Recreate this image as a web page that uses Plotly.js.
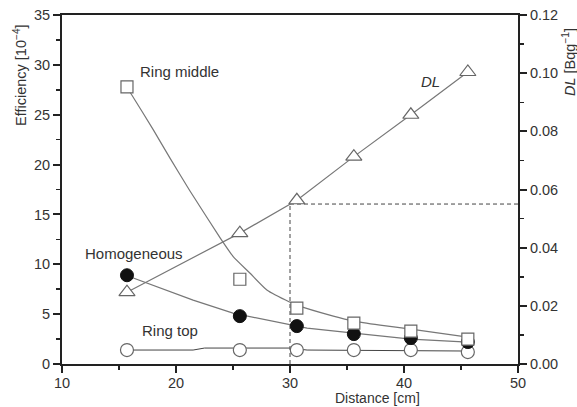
<!DOCTYPE html>
<html><head><meta charset="utf-8">
<script src="https://cdn.plot.ly/plotly-3.0.1.min.js"></script>
<style>body{margin:0;padding:0;background:#fff}#chart{width:577px;height:407px}</style>
</head><body><div id="chart"></div>
<script>
// Measured points
const distance = [15.7, 25.6, 30.6, 35.6, 40.6, 45.6];
const ringMiddle = [27.8, 8.5, 5.6, 4.1, 3.3, 2.5];
const homogeneous = [8.9, 4.8, 3.8, 3.0, 2.6, 2.2];
const ringTop = [1.4, 1.4, 1.4, 1.4, 1.4, 1.2];
const dl = [0.0247, 0.045, 0.0563, 0.0713, 0.0857, 0.1004];

// Fitted curves
const ringMiddleFitX = [15.7, 16.0, 18.0, 19.5, 21.2, 23.9, 25.0, 26.5, 28.0, 30.0, 30.6, 33.8, 35.6, 37.9, 40.6, 45.6];
const ringMiddleFitY = [27.7, 27.2, 23.5, 20.6, 17.4, 12.6, 10.8, 9.1, 7.4, 6.2, 5.9, 4.8, 4.3, 3.9, 3.5, 2.7];
const homogeneousFitX = [15.6, 21.5, 25.0, 30.0, 31.5, 35.6, 40.6, 45.6];
const homogeneousFitY = [8.9, 6.4, 5.1, 4.0, 3.6, 3.1, 2.5, 2.2];
const ringTopFitX = [15.7, 21.5, 22.5, 30.0, 31.5, 45.6];
const ringTopFitY = [1.4, 1.4, 1.6, 1.6, 1.4, 1.3];

const dlTarget = 0.055;
const distTarget = 30;

const xTicks = [10, 20, 30, 40, 50];
const yTicks = [0, 5, 10, 15, 20, 25, 30, 35];
const y2Ticks = [0, 0.02, 0.04, 0.06, 0.08, 0.10, 0.12];
const y2Labels = ['0.00', '0.02', '0.04', '0.06', '0.08', '0.10', '0.12'];

const font = 'Liberation Sans, Arial, Helvetica, sans-serif';
const txt = '#333';
const lineGray = '#777';
const mkLine = {color: '#666', width: 1.2};
const tickFont = {size: 14.5, color: txt};

const traces = [
  {x: ringMiddleFitX, y: ringMiddleFitY, mode: 'lines', line: {color: lineGray, width: 1.2, shape: 'spline', smoothing: 0.5}, hoverinfo: 'skip'},
  {x: homogeneousFitX, y: homogeneousFitY, mode: 'lines', line: {color: lineGray, width: 1.2}, hoverinfo: 'skip'},
  {x: ringTopFitX, y: ringTopFitY, mode: 'lines', line: {color: '#444', width: 1}, hoverinfo: 'skip'},
  {x: distance, y: dl, yaxis: 'y2', mode: 'lines', line: {color: lineGray, width: 1.2}, hoverinfo: 'skip'},
  {x: distance, y: ringTop, mode: 'markers', marker: {symbol: 'circle', size: 13, color: '#fff', line: mkLine}},
  {x: distance, y: homogeneous, mode: 'markers', marker: {symbol: 'circle', size: 13, color: '#111', line: {color: '#111', width: 1}}},
  {x: distance, y: ringMiddle, mode: 'markers', marker: {symbol: 'square', size: 12, color: '#fff', line: mkLine}},
  {x: distance, y: dl, yaxis: 'y2', mode: 'markers', marker: {symbol: 'triangle-up', size: 14, color: '#fff', line: mkLine}}
];

const W = 577, H = 407, ML = 62, MR = 59, MT = 15, MB = 43;
const pw = W - ML - MR, ph = H - MT - MB;
const px = v => (v - ML) / pw;
const py = v => (H - MB - v) / ph;

const layout = {
  width: W, height: H,
  margin: {l: ML, r: MR, t: MT, b: MB},
  showlegend: false,
  paper_bgcolor: '#fff', plot_bgcolor: '#fff',
  font: {family: font, size: 14.5, color: txt},
  xaxis: {
    range: [10, 50], tickvals: xTicks, ticks: 'outside', ticklen: 7, tickwidth: 2, tickcolor: '#222',
    showline: true, linecolor: '#222', linewidth: 2, mirror: true, showgrid: false, zeroline: false,
    minor: {dtick: 5, ticks: 'outside', ticklen: 4, tickwidth: 1.5, tickcolor: '#222'},
    tickfont: tickFont, ticklabelstandoff: -2
  },
  yaxis: {
    range: [0, 35], tickvals: yTicks, ticks: 'outside', ticklen: 7, tickwidth: 2, tickcolor: '#222',
    showline: true, linecolor: '#222', linewidth: 2, showgrid: false, zeroline: false,
    minor: {dtick: 2.5, ticks: 'outside', ticklen: 4, tickwidth: 1.5, tickcolor: '#222'},
    tickfont: tickFont
  },
  yaxis2: {
    range: [0, 0.12], overlaying: 'y', side: 'right', tickvals: y2Ticks, ticktext: y2Labels,
    ticks: 'outside', ticklen: 7, tickwidth: 2, tickcolor: '#222',
    showline: true, linecolor: '#222', linewidth: 2, showgrid: false, zeroline: false,
    minor: {dtick: 0.01, ticks: 'outside', ticklen: 4, tickwidth: 1.5, tickcolor: '#222'},
    tickfont: tickFont
  },
  shapes: [
    {type: 'line', xref: 'x', yref: 'y2', x0: distTarget, x1: distTarget, y0: 0, y1: dlTarget, line: {color: '#444', width: 1, dash: '4px,3px'}, layer: 'below'},
    {type: 'line', xref: 'x', yref: 'y2', x0: distTarget, x1: 50, y0: dlTarget, y1: dlTarget, line: {color: '#444', width: 1, dash: '4px,3px'}, layer: 'below'}
  ],
  annotations: [
    {text: 'Ring middle', x: 16.7, y: 29.3, xref: 'x', yref: 'y', xanchor: 'left', yanchor: 'middle', showarrow: false, font: {size: 15, color: txt}},
    {text: '<i>DL</i>', x: 42.3, y: 0.097, xref: 'x', yref: 'y2', xanchor: 'center', yanchor: 'middle', showarrow: false, font: {size: 15, color: txt}},
    {text: 'Homogeneous', x: 11.8, y: 11.1, xref: 'x', yref: 'y', xanchor: 'left', yanchor: 'middle', showarrow: false, font: {size: 15, color: txt}},
    {text: 'Ring top', x: 16.8, y: 3.4, xref: 'x', yref: 'y', xanchor: 'left', yanchor: 'middle', showarrow: false, font: {size: 15, color: txt}},
    {text: 'Distance [cm]', x: px(377), y: py(407), xref: 'paper', yref: 'paper', xanchor: 'center', yanchor: 'bottom', borderpad: 0, showarrow: false, font: {size: 14, color: txt}},
    {text: 'Efficiency [10<sup>−4</sup>]', x: px(20), y: py(75), xref: 'paper', yref: 'paper', xanchor: 'center', yanchor: 'middle', textangle: -90, showarrow: false, font: {size: 14.5, color: txt}},
    {text: '<i>DL</i> [Bqg<sup>−1</sup>]', x: px(569), y: py(62), xref: 'paper', yref: 'paper', xanchor: 'center', yanchor: 'middle', textangle: -90, showarrow: false, font: {size: 14.5, color: txt}}
  ]
};

Plotly.newPlot('chart', traces, layout, {displayModeBar: false, staticPlot: true});
</script></body></html>
